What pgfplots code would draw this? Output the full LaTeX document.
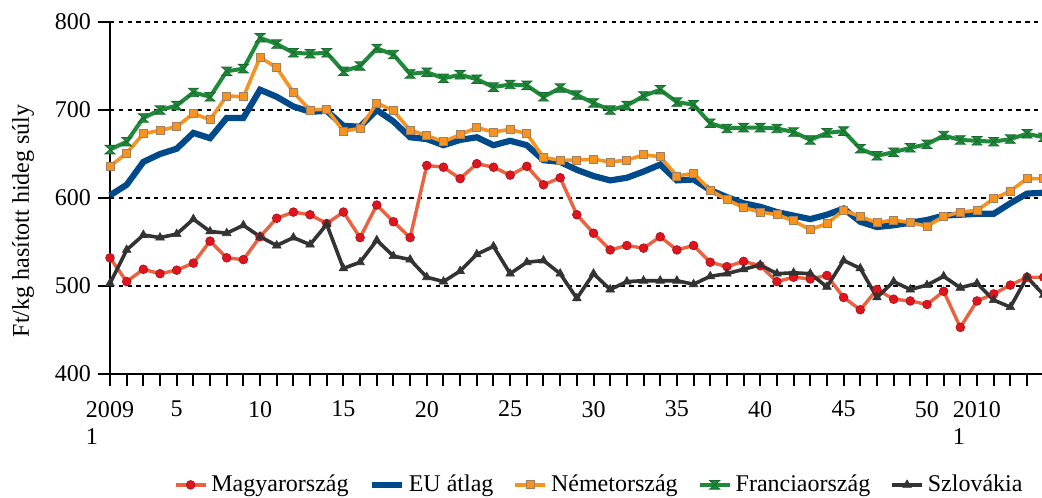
\documentclass[border=0pt]{standalone}
\usepackage{fontspec}
\setmainfont{Liberation Serif}
\usepackage{pgfplots}
\pgfplotsset{compat=1.18}
\usepackage{pgfplotstable}

\definecolor{huline}{HTML}{EC6240}
\definecolor{huball}{HTML}{E0141E}
\definecolor{eublue}{HTML}{004A8C}
\definecolor{deorange}{HTML}{F7931E}
\definecolor{deedge}{HTML}{A08060}
\definecolor{frgreen}{HTML}{1F8A3A}
\definecolor{fredge}{HTML}{176B2C}
\definecolor{skgray}{HTML}{333333}

\pgfdeclareplotmark{hourglass}{%
  \pgfpathmoveto{\pgfqpoint{-\pgfplotmarksize}{0.85\pgfplotmarksize}}%
  \pgfpathlineto{\pgfqpoint{\pgfplotmarksize}{0.85\pgfplotmarksize}}%
  \pgfpathlineto{\pgfqpoint{-\pgfplotmarksize}{-0.85\pgfplotmarksize}}%
  \pgfpathlineto{\pgfqpoint{\pgfplotmarksize}{-0.85\pgfplotmarksize}}%
  \pgfpathclose
  \pgfusepathqfillstroke}

\pgfplotstableread{
i hu eu de fr sk
1 532 603 636 655 503
2 505 615 651 664 541
3 519 641 673 691 558
4 514 650 677 700 555
5 518 656 681 705 559
6 526 674 696 720 576
7 551 668 689 715 562
8 532 691 716 744 560
9 530 691 715 747 569
10 556 723 760 782 556
11 577 715 748 775 546
12 584 704 720 765 555
13 581 698 700 764 547
14 571 699 701 765 570
15 584 682 676 744 520
16 555 681 679 750 527
17 592 700 708 770 552
18 573 687 699 763 534
19 555 669 677 741 530
20 637 667 671 743 510
21 635 660 664 736 505
22 622 666 672 740 517
23 639 669 680 735 536
24 635 660 675 726 545
25 626 665 678 729 514
26 636 660 673 728 527
27 615 643 646 715 529
28 623 641 643 725 514
29 581 632 643 717 486
30 560 625 644 708 514
31 541 620 641 700 496
32 546 623 643 705 505
33 543 630 649 716 506
34 556 638 647 723 506
35 541 620 625 709 506
36 546 621 628 706 502
37 527 609 609 685 511
38 522 601 598 679 514
39 528 594 589 680 519
40 523 590 584 680 524
41 505 584 581 679 514
42 510 580 574 675 515
43 508 576 564 666 514
44 512 581 571 674 499
45 487 588 586 676 529
46 473 573 579 656 520
47 496 567 572 648 487
48 485 569 575 652 505
49 483 572 572 657 496
50 479 575 568 661 501
51 494 580 579 671 511
52 453 581 584 666 498
53 483 582 586 665 503
54 491 582 599 664 484
55 501 594 608 667 476
56 510 605 622 673 510
57 510 606 622 669 490
}\datatable

\begin{document}
\begin{tikzpicture}
\begin{axis}[
  scale only axis, width=466pt, height=176pt,
  xmin=1, xmax=56.9, ymin=400, ymax=800,
  axis lines*=left,
  axis line style={line width=1pt, black},
  tick style={line width=1pt, black},
  tick align=outside, major tick length=6pt, minor tick length=6pt,
  xtick={1,5,10,15,20,25,30,35,40,45,50,53},
  xticklabels={{2009\\1},5,10,15,20,25,30,35,40,45,50,{2010\\1}},
  minor xtick={1,...,57},
  ytick={400,500,...,800},
  ymajorgrids,
  grid style={black, line width=0.9pt, dash pattern=on 2.2pt off 2.2pt},
  xticklabel style={align=left, yshift=-4pt, font=\fontsize{12}{13.5}\selectfont},
  yticklabel style={font=\fontsize{12}{13.5}\selectfont},
  /pgf/number format/assume math mode=true,
  ylabel={Ft/kg hasított hideg súly},
  ylabel style={at={(axis description cs:-0.0933,0.4347)}, anchor=center, font=\fontsize{12}{14}\selectfont},
  clip=false,
  legend columns=5,
  legend style={at={(axis description cs:0.526,-0.315)}, anchor=center, draw=none, fill=none,
    font=\fontsize{12}{14}\selectfont,
    /tikz/every even column/.append style={column sep=8pt}},
  legend cell align=left,
  legend image code/.code={\draw[mark repeat=2,mark phase=2,#1] plot coordinates {(0pt,0pt) (7.5pt,0pt) (15pt,0pt)};},
]
\addplot[color=huline, line width=1.7pt, mark=*, mark size=2.2pt, mark options={fill=huball, draw=huball!75!black, line width=0.3pt}] table[x=i, y=hu] {\datatable};
\addlegendentry{Magyarország}
\addplot[color=eublue, line width=3.1pt, no marks] table[x=i, y=eu] {\datatable};
\addlegendentry{EU átlag}
\addplot[color=deorange, line width=1.8pt, mark=square*, mark size=2pt, mark options={fill=deorange, draw=deedge, line width=0.4pt}] table[x=i, y=de] {\datatable};
\addlegendentry{Németország}
\addplot[color=frgreen, line width=2pt, mark=hourglass, mark size=2.5pt, mark options={fill=frgreen, draw=fredge, line width=0.4pt}] table[x=i, y=fr] {\datatable};
\addlegendentry{Franciaország}
\addplot[color=skgray, line width=1.8pt, mark=triangle*, mark size=2.5pt, mark options={fill=skgray, draw=skgray, line width=0.3pt}] table[x=i, y=sk] {\datatable};
\addlegendentry{Szlovákia}
\end{axis}
\pgfresetboundingbox
\path (-55pt,-61.5pt) rectangle (466pt,187pt);
\end{tikzpicture}
\end{document}
